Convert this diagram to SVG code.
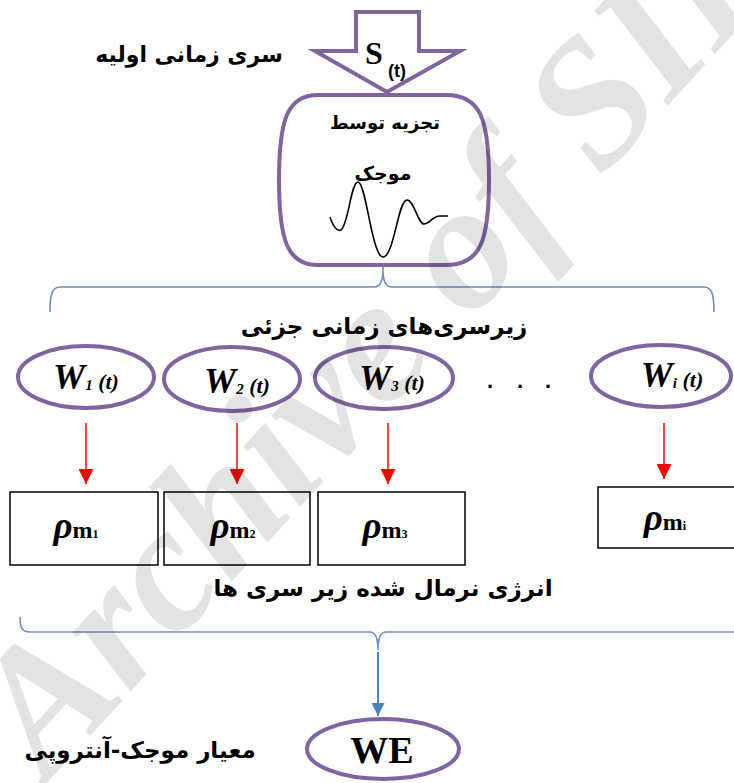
<svg xmlns="http://www.w3.org/2000/svg" width="734" height="783" viewBox="0 0 734 783">
<style>
.fa{font-family:"DejaVu Sans",sans-serif;font-weight:bold;fill:#000}
.pur{fill:none;stroke:#8064a2;stroke-width:4}
.box{fill:#fff;stroke:#000;stroke-width:1.5}
.w{font-family:"Liberation Serif",serif;font-weight:bold;font-style:italic;fill:#000}
.rho{font-family:"Liberation Serif",serif;font-weight:bold;fill:#000}
.red{stroke:#ff0000;stroke-width:1.5;fill:none}
.blue{stroke:#6a8fc6;stroke-width:1.6;fill:none}
</style>
<defs>
<marker id="ar" viewBox="0 0 10 10" refX="10" refY="5" markerWidth="15" markerHeight="15" markerUnits="userSpaceOnUse" orient="auto"><path d="M0 0 L10 5 L0 10 Z" fill="#ff0000"/></marker>
<marker id="ab" viewBox="0 0 10 10" refX="10" refY="5" markerWidth="13" markerHeight="13" markerUnits="userSpaceOnUse" orient="auto"><path d="M0 0 L10 5 L0 10 Z" fill="#4f81bd"/></marker>
</defs>
<rect width="734" height="783" fill="#fff"/>

<g id="connectors">
<path class="blue" d="M383 265 V270"/>
<path class="blue" d="M50 312 C50 295 52 287 60 287 H374 C380 287 383 281 383 270 C383 281 386 287 392 287 H704 C712 287 714 295 714 312"/>
<line class="red" x1="86" y1="423" x2="86" y2="484" marker-end="url(#ar)"/>
<line class="red" x1="237" y1="423" x2="237" y2="484" marker-end="url(#ar)"/>
<line class="red" x1="388" y1="423" x2="388" y2="484" marker-end="url(#ar)"/>
<line class="red" x1="664" y1="423" x2="664" y2="479" marker-end="url(#ar)"/>
<path class="blue" d="M20 617 C20 628 22 632 30 632 H370 C376 632 378 638 378 650 C378 638 380 632 386 632 H734"/>
<line x1="378" y1="652" x2="378" y2="716" stroke="#4f81bd" stroke-width="2" marker-end="url(#ab)"/>
</g>

<g id="input">
<path class="pur" d="M356 12 H419 V51 H460 L387 92 L315 51 H356 Z" fill="#fff"/>
<text x="365" y="64" font-family="Liberation Serif,serif" font-weight="bold" font-size="32">S</text>
<text x="388" y="77" font-family="Liberation Sans,sans-serif" font-weight="bold" font-size="18">(t)</text>
<text class="fa" x="189" y="62" font-size="22" text-anchor="middle">سری زمانی اولیه</text>
</g>

<g id="decomp">
<path class="pur" d="M318 95 H446 C480 95 489 118 489 180 C489 242 480 265 446 265 H318 C288 265 279 242 279 180 C279 118 288 95 318 95 Z" fill="#fff"/>
<text class="fa" x="385" y="129" font-size="18" text-anchor="middle">تجزیه توسط</text>
<text class="fa" x="383" y="180" font-size="19" text-anchor="middle">موجک</text>
<path d="M330 217 C333 226 337 232 341 230 C348 226 351 182 358 182 C366 182 372 257 383 257 C394 257 398 200 407 200 C414 200 418 224 424 224 C430 224 432 216 440 216 H448" fill="none" stroke="#000" stroke-width="1.6"/>
</g>

<text class="fa" x="384" y="334" font-size="23" text-anchor="middle">زیرسری‌های زمانی جزئی</text>

<g id="w1"><ellipse class="pur" cx="86" cy="377" rx="68" ry="31"/>
<text class="w" x="86" y="389" text-anchor="middle"><tspan font-size="36">W</tspan><tspan font-size="15" dy="1">1</tspan><tspan font-size="22" dy="-1"> (t)</tspan></text></g>
<g id="w2"><ellipse class="pur" cx="232" cy="379" rx="68" ry="32"/>
<text class="w" x="237" y="393" text-anchor="middle"><tspan font-size="36">W</tspan><tspan font-size="15" dy="1">2</tspan><tspan font-size="22" dy="-1"> (t)</tspan></text></g>
<g id="w3"><ellipse class="pur" cx="384" cy="378" rx="69" ry="31"/>
<text class="w" x="392" y="390" text-anchor="middle"><tspan font-size="36">W</tspan><tspan font-size="15" dy="1">3</tspan><tspan font-size="22" dy="-1"> (t)</tspan></text></g>
<g id="dots"><text x="487 517 545" y="388" font-family="Liberation Sans,sans-serif" font-weight="bold" font-size="22">...</text></g>
<g id="wi"><ellipse class="pur" cx="661" cy="376" rx="70" ry="31"/>
<text class="w" x="672" y="387" text-anchor="middle"><tspan font-size="36">W</tspan><tspan font-size="15" dy="1">i</tspan><tspan font-size="22" dy="-1"> (t)</tspan></text></g>

<g id="r1"><rect class="box" x="10" y="492" width="148" height="73"/>
<text class="rho" x="76" y="538" text-anchor="middle"><tspan font-size="37" font-style="italic">ρ</tspan><tspan font-size="24">m</tspan><tspan font-size="12">1</tspan></text></g>
<g id="r2"><rect class="box" x="164" y="492" width="146" height="73"/>
<text class="rho" x="233" y="538" text-anchor="middle"><tspan font-size="37" font-style="italic">ρ</tspan><tspan font-size="24">m</tspan><tspan font-size="12">2</tspan></text></g>
<g id="r3"><rect class="box" x="318" y="492" width="147" height="73"/>
<text class="rho" x="385" y="538" text-anchor="middle"><tspan font-size="37" font-style="italic">ρ</tspan><tspan font-size="24">m</tspan><tspan font-size="12">3</tspan></text></g>
<g id="ri"><rect class="box" x="598" y="487" width="140" height="61"/>
<text class="rho" x="665" y="530" text-anchor="middle"><tspan font-size="37" font-style="italic">ρ</tspan><tspan font-size="24">m</tspan><tspan font-size="12">i</tspan></text></g>

<text class="fa" x="383" y="596" font-size="23" text-anchor="middle">انرژی نرمال شده زیر سری ها</text>

<g id="we"><ellipse class="pur" cx="383" cy="749" rx="76" ry="30"/>
<text x="382" y="763" font-family="Liberation Serif,serif" font-weight="bold" font-size="38" text-anchor="middle">WE</text></g>
<text class="fa" x="140" y="758" font-size="23" text-anchor="middle">معیار موجک-آنتروپی</text>

<text transform="translate(47 783) rotate(-47.5)" font-family="Liberation Serif,serif" font-weight="bold" font-style="italic" font-size="180" fill="#000" fill-opacity="0.11">Archive of SID</text>
</svg>
